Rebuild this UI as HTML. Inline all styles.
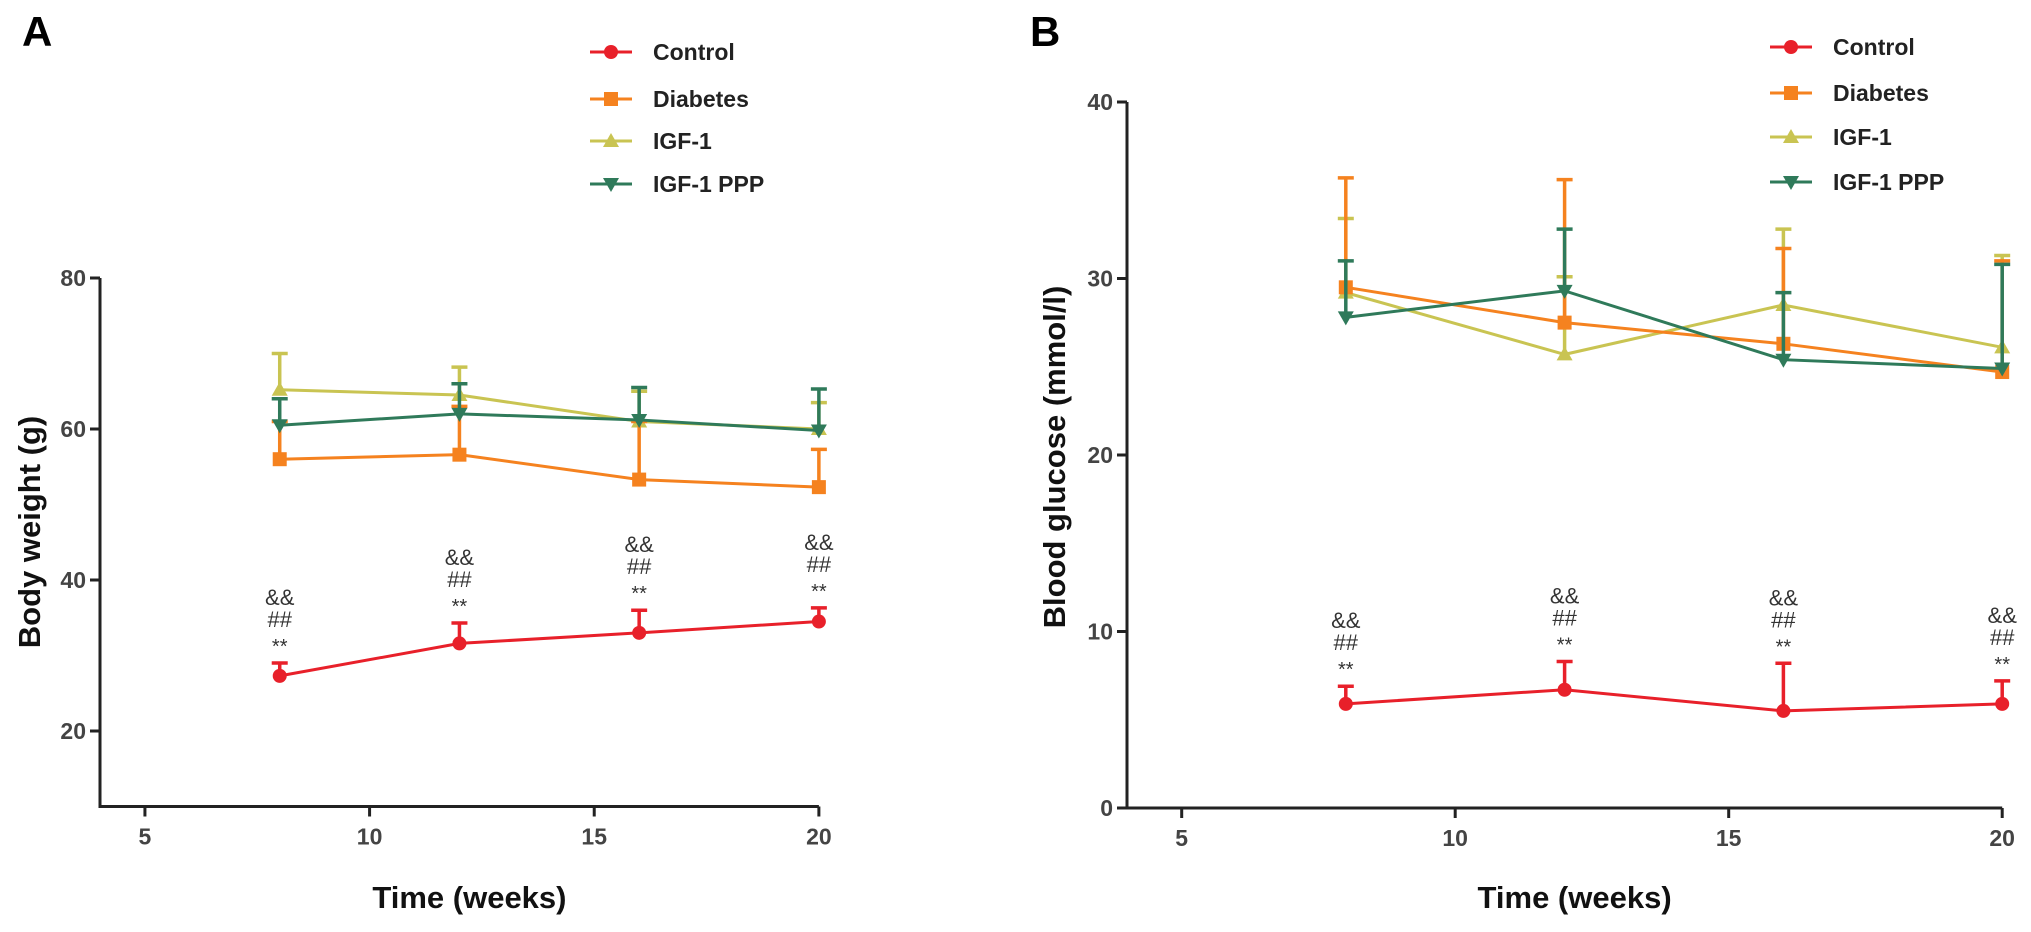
<!DOCTYPE html>
<html><head><meta charset="utf-8"><style>
html,body{margin:0;padding:0;background:#fff;}
svg{display:block;font-family:"Liberation Sans",Arial,sans-serif;}
</style></head><body>
<svg id="chart" width="2031" height="932" viewBox="0 0 2031 932"></svg>
<script>
const weeks = [8, 12, 16, 20];
const seriesNames = ["Control", "Diabetes", "IGF-1", "IGF-1 PPP"];
const bwControl = [27.3, 31.6, 33.0, 34.5];
const bwControlErr = [29.0, 34.3, 36.0, 36.3];
const bwDiabetes = [56.0, 56.6, 53.3, 52.3];
const bwDiabetesErr = [61.0, 63.0, 61.0, 57.3];
const bwIGF = [65.2, 64.5, 61.0, 60.0];
const bwIGFErr = [70.0, 68.2, 65.0, 63.5];
const bwPPP = [60.5, 62.0, 61.2, 59.8];
const bwPPPErr = [64.0, 66.0, 65.5, 65.3];
const bgControl = [5.9, 6.7, 5.5, 5.9];
const bgControlErr = [6.9, 8.3, 8.2, 7.2];
const bgDiabetes = [29.5, 27.5, 26.3, 24.7];
const bgDiabetesErr = [35.7, 35.6, 31.7, 31.0];
const bgIGF = [29.2, 25.7, 28.5, 26.1];
const bgIGFErr = [33.4, 30.1, 32.8, 31.3];
const bgPPP = [27.8, 29.3, 25.4, 24.9];
const bgPPPErr = [31.0, 32.8, 29.2, 30.8];
const xTicks = [5, 10, 15, 20];
const bwTicks = [20, 40, 60, 80];
const bgTicks = [0, 10, 20, 30, 40];
const annotLines = ["&&", "##", "**"];

const NS = "http://www.w3.org/2000/svg";
const svg = document.getElementById("chart");
const colors = ["#e8202a", "#f5821f", "#c9c452", "#2f7a5a"];
const shapes = ["circle", "square", "up", "down"];

function mk(tag, attrs, parent) {
  const e = document.createElementNS(NS, tag);
  for (const k in attrs) e.setAttribute(k, attrs[k]);
  (parent || svg).appendChild(e);
  return e;
}
function marker(g, shape, x, y, c) {
  let e;
  if (shape === "circle") e = mk("circle", {cx: x, cy: y, r: 7, fill: c}, g);
  else if (shape === "square") e = mk("rect", {x: x - 7, y: y - 7, width: 14, height: 14, fill: c}, g);
  else if (shape === "up") e = mk("polygon", {points: `${x},${y-8} ${x+8},${y+6} ${x-8},${y+6}`, fill: c}, g);
  else e = mk("polygon", {points: `${x},${y+8} ${x+8},${y-6} ${x-8},${y-6}`, fill: c}, g);
  return e;
}

function panel(cfg) {
  const X = v => cfg.x0 + (v - 4) * cfg.xs;
  const Y = v => cfg.yBase - (v - cfg.yMin) * cfg.ys;
  const g = mk("g", {});
  
  
  const t = mk("text", {x: cfg.letterX, y: 46, "font-size": 42, "font-weight": "bold", fill: "#000"}, g);
  t.textContent = cfg.letter;
  
  
  const top = Y(cfg.yMax);
  const ax = mk("path", {d: `M${cfg.x0},${top} L${cfg.x0},${cfg.yBase} L${X(20)},${cfg.yBase}`, stroke: "#222", "stroke-width": 3, fill: "none"}, g);
  
  
  cfg.yt.forEach(v => {
    mk("line", {x1: cfg.x0 - 10, x2: cfg.x0, y1: Y(v), y2: Y(v), stroke: "#222", "stroke-width": 3}, g);
    const tl = mk("text", {x: cfg.x0 - 14, y: Y(v) + 8, "font-size": 23, "font-weight": "bold", fill: "#444", "text-anchor": "end"}, g);
    tl.textContent = v;
    
    
  });
  xTicks.forEach(v => {
    mk("line", {x1: X(v), x2: X(v), y1: cfg.yBase, y2: cfg.yBase + 10, stroke: "#222", "stroke-width": 3}, g);
    const tl = mk("text", {x: X(v), y: cfg.yBase + 38, "font-size": 23, "font-weight": "bold", fill: "#444", "text-anchor": "middle"}, g);
    tl.textContent = v;
    
    
  });
  const xt = mk("text", {x: (cfg.x0 + X(20)) / 2 + 10, y: 908, "font-size": 31, "font-weight": "bold", fill: "#111", "text-anchor": "middle"}, g);
  xt.textContent = "Time (weeks)";
  
  
  const yt = mk("text", {x: 0, y: 0, "font-size": 31, "font-weight": "bold", fill: "#111", "text-anchor": "middle", transform: `translate(${cfg.yTitleX},${cfg.yTitleY}) rotate(-90)`}, g);
  yt.textContent = cfg.yTitle;
  
  
  const order = [2, 1, 3, 0];
  order.forEach(i => {
    const vals = cfg.data[i], errs = cfg.errs[i], c = colors[i];
    const sg = mk("g", {}, g);
    
    
    weeks.forEach((w, j) => {
      const eb = mk("path", {d: `M${X(w)},${Y(vals[j])} L${X(w)},${Y(errs[j])} M${X(w)-8},${Y(errs[j])} L${X(w)+8},${Y(errs[j])}`, stroke: c, "stroke-width": 3.5, fill: "none"}, sg);
      
      
    });
    const pl = mk("polyline", {points: weeks.map((w, j) => `${X(w)},${Y(vals[j])}`).join(" "), stroke: c, "stroke-width": 3, fill: "none"}, sg);
    
    
    weeks.forEach((w, j) => {
      const m = marker(sg, shapes[i], X(w), Y(vals[j]), c);
      
      
    });
  });
  weeks.forEach((w, j) => {
    const capY = Y(cfg.errs[0][j]);
    annotLines.forEach((s, k) => {
      const a = mk("text", {x: X(w), y: capY - 14 - (2 - k) * 22 + (k === 2 ? 4 : 0), "font-size": k === 2 ? 20 : 22, fill: "#333", "text-anchor": "middle"}, g);
      a.textContent = s;
      
      
    });
  });
  const lg = mk("g", {}, g);
  
  
  seriesNames.forEach((n, i) => {
    const ly = cfg.legY[i];
    const le = mk("g", {}, lg);
    
    
    mk("line", {x1: cfg.legX, x2: cfg.legX + 42, y1: ly, y2: ly, stroke: colors[i], "stroke-width": 3}, le);
    marker(le, shapes[i], cfg.legX + 21, ly, colors[i]);
    const lt = mk("text", {x: cfg.legX + 63, y: ly + 8, "font-size": 23, "font-weight": "bold", fill: "#222"}, le);
    lt.textContent = n;
  });
}

panel({name: "panel-a-body-weight", letter: "A", letterX: 22, x0: 100, xs: 44.93, yBase: 806.5, yMin: 10, yMax: 80, ys: 7.55,
  yt: bwTicks, yTitle: "Body weight (g)", yTitleX: 40, yTitleY: 532,
  data: [bwControl, bwDiabetes, bwIGF, bwPPP], errs: [bwControlErr, bwDiabetesErr, bwIGFErr, bwPPPErr],
  legX: 590, legY: [52, 99, 141, 184]});
panel({name: "panel-b-blood-glucose", letter: "B", letterX: 1030, x0: 1127, xs: 54.7, yBase: 808, yMin: 0, yMax: 40, ys: 17.65,
  yt: bgTicks, yTitle: "Blood glucose (mmol/l)", yTitleX: 1065, yTitleY: 457,
  data: [bgControl, bgDiabetes, bgIGF, bgPPP], errs: [bgControlErr, bgDiabetesErr, bgIGFErr, bgPPPErr],
  legX: 1770, legY: [47, 93, 137, 182]});
</script>
</body></html>
